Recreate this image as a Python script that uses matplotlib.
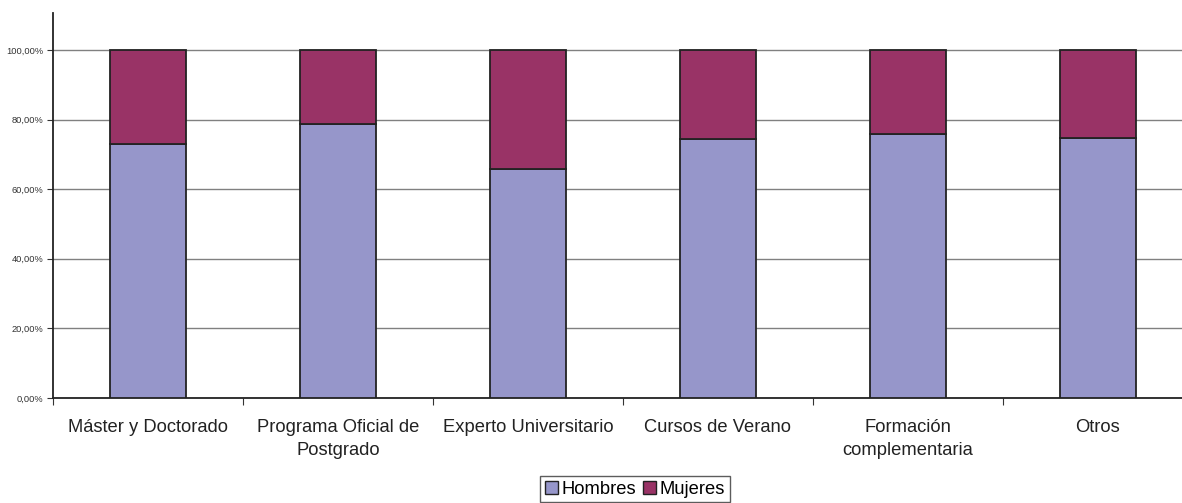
import matplotlib
matplotlib.use("Agg")
import matplotlib.pyplot as plt
from matplotlib.patches import Patch
import numpy as np

categorias = ["Máster y Doctorado", "Programa Oficial de\nPostgrado", "Experto Universitario",
              "Cursos de Verano", "Formación\ncomplementaria", "Otros"]
hombres = [72.9, 78.7, 65.7, 74.5, 75.7, 74.6]
mujeres = [100 - h for h in hombres]
yticks = [0, 20, 40, 60, 80, 100]

plt.rcParams['font.family'] = ['Liberation Sans', 'DejaVu Sans']

fig = plt.figure(figsize=(11.82, 5.03), dpi=100)
# the chart is cut at the right edge in the original, axes run past the figure
ax = fig.add_axes([53/1182, 105/503, 1140/1182, 385/503])

x = np.arange(len(categorias)) + 0.5
ax.bar(x, hombres, width=0.4, color="#9696CA", edgecolor="#222222", linewidth=1.3, zorder=3)
ax.bar(x, mujeres, width=0.4, bottom=hombres, color="#993366", edgecolor="#222222", linewidth=1.3, zorder=3)

ax.set_xlim(0, 6)
ax.set_ylim(0, 110.6)
ax.set_yticks(yticks)
ax.set_yticklabels(["{:.2f}%".format(v).replace(".", ",") for v in yticks], fontsize=6.7, color="#333333")
ax.yaxis.grid(True, color="#808080", linewidth=1, zorder=0)

ax.set_xticks(np.arange(0, 7))
ax.set_xticklabels([])
ax.set_xticks(x, minor=True)
ax.set_xticklabels(categorias, minor=True, fontsize=13.2, color="#222222", linespacing=1.45)
ax.tick_params(axis="x", which="minor", length=0, pad=15)
ax.tick_params(axis="x", which="major", length=5, direction="out", color="#333333")
ax.tick_params(axis="y", length=4, direction="out", color="#333333", pad=3)

for s in ["top", "right"]:
    ax.spines[s].set_visible(False)
ax.spines["left"].set_color("#222222")
ax.spines["bottom"].set_color("#222222")
ax.spines["left"].set_linewidth(1.3)
ax.spines["bottom"].set_linewidth(1.3)

handles = [Patch(facecolor="#9696CA", edgecolor="#222222"), Patch(facecolor="#993366", edgecolor="#222222")]
fig.legend(handles, ["Hombres", "Mujeres"], loc="center", bbox_to_anchor=(635/1182, 1 - 489/503),
           ncol=2, fontsize=13.2, frameon=True, fancybox=False, edgecolor="#333333",
           handlelength=0.7, handleheight=0.7, handletextpad=0.2, columnspacing=0.4,
           borderpad=0.25, borderaxespad=0)

fig.savefig("out.png", dpi=100)
